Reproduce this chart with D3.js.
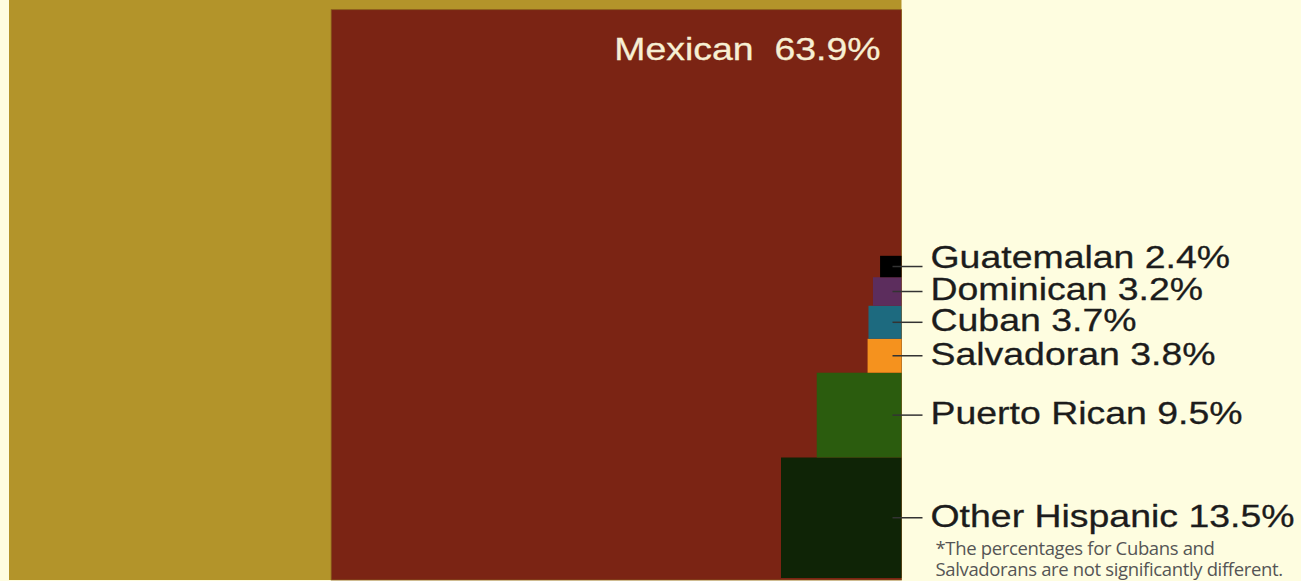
<!DOCTYPE html>
<html>
<head>
<meta charset="utf-8">
<script src="https://cdn.jsdelivr.net/npm/d3@7"></script>
<style>
  body { margin: 0; background: #fefde0; }
  svg { display: block; }
</style>
</head>
<body>
<div id="chart"></div>
<script>
// Hispanic origin groups, share of all Hispanics (%)
const mainGroup = "Mexican";
const mainShare = 63.9;
const groups = ["Other Hispanic", "Puerto Rican", "Salvadoran", "Cuban", "Dominican", "Guatemalan"];
const shares = [13.5, 9.5, 3.8, 3.7, 3.2, 2.4];
const groupColors = ["#0f2406", "#2b5c0e", "#f5921e", "#1d6a7f", "#5c2d5d", "#000000"];
const footnote = ["*The percentages for Cubans and", "Salvadorans are not significantly different."];

const width = 1301, height = 581;
const right = 901.5, bottom = 580, stackBottom = 578;
const stretch = 1.17; // the labels are set in a wide sans

const side = d3.scaleLinear().domain([0, 100]).range([0, 892.5]);

const svg = d3.select("#chart").append("svg")
  .attr("width", width)
  .attr("height", height);

svg.append("rect")
  .attr("width", width).attr("height", height)
  .attr("fill", "#fefde0");

// all Hispanics = 100%
svg.append("rect")
  .attr("x", right - side(100))
  .attr("y", bottom - side(100))
  .attr("width", side(100))
  .attr("height", side(100))
  .attr("fill", "#b3942a");

svg.append("rect")
  .attr("x", right - side(mainShare))
  .attr("y", bottom - side(mainShare))
  .attr("width", side(mainShare))
  .attr("height", side(mainShare))
  .attr("fill", "#7b2414")
  .attr("stroke", "#8a5a1c")
  .attr("stroke-width", 0.8);

svg.append("text")
  .attr("transform", `translate(${right - 21},${bottom - side(mainShare) + 50}) scale(${stretch},1)`)
  .attr("text-anchor", "end")
  .attr("font-family", "Liberation Sans, Arial, sans-serif")
  .attr("font-size", 32)
  .attr("fill", "#f7efd3")
  .attr("stroke", "#f7efd3")
  .attr("stroke-width", 0.3)
  .style("white-space", "pre")
  .text(`${mainGroup}  ${mainShare}%`);

// stack the smaller groups from the bottom up
let y0 = stackBottom;
const boxes = groups.map((g, i) => {
  const s = side(shares[i]);
  y0 -= s;
  return { name: g, share: shares[i], color: groupColors[i], x: right - s, y: y0, s: s, cy: y0 + s / 2 };
});

// label baselines, pushed apart where boxes are small
let prev = Infinity;
boxes.forEach(b => {
  let base = b.cy + 9;
  if (base > prev - 31.5) base = prev - 31.5;
  b.base = base;
  prev = base;
});

svg.append("g")
  .selectAll("rect")
  .data(boxes)
  .join("rect")
  .attr("x", d => d.x)
  .attr("y", d => d.y)
  .attr("width", d => d.s)
  .attr("height", d => d.s)
  .attr("fill", d => d.color);

svg.append("g")
  .attr("stroke", "#333")
  .attr("stroke-width", 1.5)
  .selectAll("line")
  .data(boxes)
  .join("line")
  .attr("x1", right - 9)
  .attr("x2", right + 21)
  .attr("y1", d => d.cy)
  .attr("y2", d => d.cy);

svg.append("g")
  .attr("font-family", "Liberation Sans, Arial, sans-serif")
  .attr("font-size", 32)
  .attr("fill", "#1c1c1c")
  .attr("stroke", "#1c1c1c")
  .attr("stroke-width", 0.3)
  .selectAll("text")
  .data(boxes)
  .join("text")
  .attr("transform", d => `translate(${right + 29},${d.base}) scale(${stretch},1)`)
  .text(d => `${d.name} ${d.share}%`);

svg.append("g")
  .attr("font-family", "Open Sans, sans-serif")
  .attr("font-size", 18.5)
  .attr("fill", "#555")
  .selectAll("text")
  .data(footnote)
  .join("text")
  .attr("x", right + 34)
  .attr("y", (d, i) => 555 + i * 21)
  .attr("letter-spacing", -0.35)
  .text(d => d);
</script>
</body>
</html>
